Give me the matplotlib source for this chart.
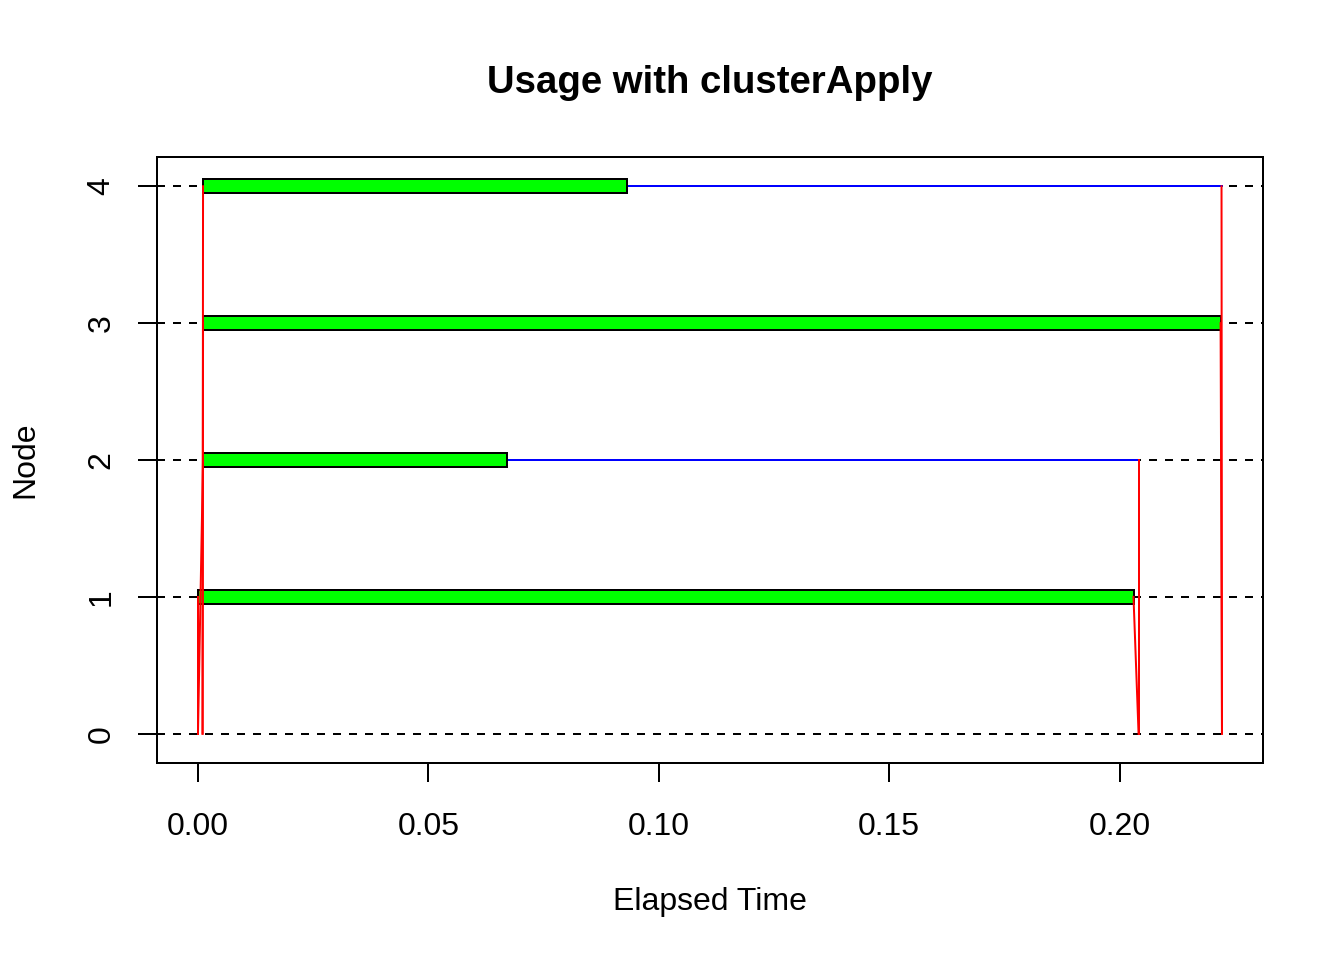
import numpy as np
import matplotlib.pyplot as plt

plt.rcParams['font.family'] = ['Liberation Sans', 'DejaVu Sans']

# per-node task data (seconds)
nodes = [1, 2, 3, 4]
task_start = [0.0000, 0.0011, 0.0011, 0.0011]
task_end = [0.2030, 0.0670, 0.2219, 0.0931]
send_time = [0.0000, 0.0000, 0.0010, 0.0010]   # master sends (node 0)
recv_time = [0.2041, 0.2041, 0.2222, 0.2222]   # master receives
wait_end = [0.2030, 0.2041, 0.2219, 0.2221]    # blue wait line end on node

fig = plt.figure(figsize=(7, 5), dpi=192)
ax = fig.add_axes([157 / 1344, 1 - 763 / 960, (1263 - 157) / 1344, (763 - 157) / 960])

lw = 0.75
for n in range(0, 5):
    ax.axhline(n, color='black', lw=lw, ls=(0, (4, 4)), zorder=1)

for i, n in enumerate(nodes):
    if wait_end[i] > task_end[i]:
        ax.plot([task_end[i], wait_end[i]], [n, n], color='blue', lw=lw, zorder=2)

for i, n in enumerate(nodes):
    ax.add_patch(plt.Rectangle((task_start[i], n - 0.05), task_end[i] - task_start[i], 0.1,
                               facecolor='#00ff00', edgecolor='black', lw=lw, zorder=3))

for i, n in enumerate(nodes):
    ax.plot([send_time[i], task_start[i]], [0, n], color='red', lw=lw, zorder=4)
    ax.plot([wait_end[i], recv_time[i]], [n, 0], color='red', lw=lw, zorder=4)

ax.set_xlim(-0.00889, 0.2311)
ax.set_ylim(-0.214, 4.214)
ax.set_xticks([0.00, 0.05, 0.10, 0.15, 0.20])
ax.set_xticklabels(['0.00', '0.05', '0.10', '0.15', '0.20'])
ax.set_yticks([0, 1, 2, 3, 4])
ax.set_yticklabels(['0', '1', '2', '3', '4'], rotation=90, va='center')
ax.tick_params(direction='out', length=7.2, width=lw, labelsize=12)
ax.tick_params(axis='x', pad=11)
ax.tick_params(axis='y', pad=8)
for s in ax.spines.values():
    s.set_linewidth(lw)

fig.text(710 / 1344, 1 - 83 / 960, 'Usage with clusterApply', ha='center', va='center',
         fontsize=14.4, fontweight='bold')
fig.text(710 / 1344, 1 - 902 / 960, 'Elapsed Time', ha='center', va='center', fontsize=12)
fig.text(25 / 1344, 1 - 460 / 960, 'Node', ha='center', va='center', fontsize=12, rotation=90)

fig.savefig('out.png', dpi=192)
